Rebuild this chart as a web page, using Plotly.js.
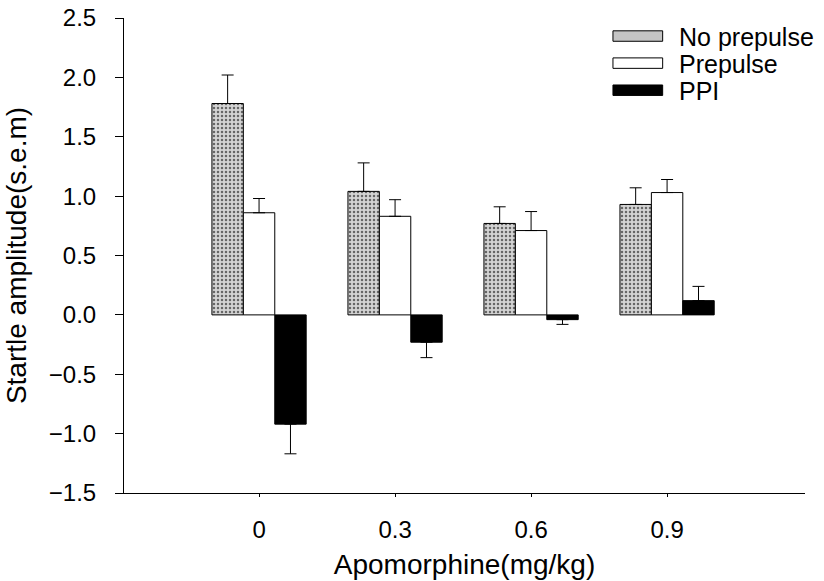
<!DOCTYPE html>
<html>
<head>
<meta charset="utf-8">
<script src="https://cdn.plot.ly/plotly-3.0.1.min.js"></script>
<style>html,body{margin:0;padding:0;background:#fff;}#chart{width:824px;height:581px;}</style>
</head>
<body>
<div id="chart"></div>
<script>
const categories = ["0", "0.3", "0.6", "0.9"];
const seriesNames = ["No prepulse", "Prepulse", "PPI"];
const noPrepulse = [1.78, 1.04, 0.77, 0.93];
const noPrepulseErr = [0.24, 0.24, 0.14, 0.14];
const prepulse = [0.86, 0.83, 0.71, 1.03];
const prepulseErr = [0.12, 0.14, 0.16, 0.11];
const ppi = [-0.92, -0.23, -0.04, 0.12];
const ppiErr = [0.25, 0.13, 0.04, 0.12];

function errObj(vals, errs) {
  return {
    type: 'data', symmetric: false,
    array: vals.map((v, i) => v >= 0 ? errs[i] : 0),
    arrayminus: vals.map((v, i) => v < 0 ? errs[i] : 0),
    color: '#000', thickness: 1, width: 6, visible: true
  };
}

const traces = [
  {type: 'bar', name: seriesNames[0], x: categories, y: noPrepulse,
   error_y: errObj(noPrepulse, noPrepulseErr),
   marker: {color: '#c4c4c4', line: {color: '#000', width: 1},
            pattern: {shape: '.', fgcolor: '#666', bgcolor: '#d4d4d4', size: 4, solidity: 0.3}}},
  {type: 'bar', name: seriesNames[1], x: categories, y: prepulse,
   error_y: errObj(prepulse, prepulseErr),
   marker: {color: '#ffffff', line: {color: '#000', width: 1}}},
  {type: 'bar', name: seriesNames[2], x: categories, y: ppi,
   error_y: errObj(ppi, ppiErr),
   marker: {color: '#000000', line: {color: '#000', width: 1}}}
];

const FONT = 'Liberation Sans, Arial, sans-serif';

// custom legend (wide swatches as in the original)
const legFill = ['#c4c4c4', '#ffffff', '#000000'];
const legY = [0.952, 0.895, 0.838];
const shapes = [];
const annotations = [];
seriesNames.forEach((n, i) => {
  shapes.push({type: 'rect', xref: 'paper', yref: 'paper',
    x0: 0.718, x1: 0.791, y0: legY[i] - 0.001, y1: legY[i] + 0.021,
    fillcolor: legFill[i], line: {color: '#000', width: 1}});
  annotations.push({xref: 'paper', yref: 'paper', x: 0.812, y: legY[i] + 0.008,
    xanchor: 'left', yanchor: 'middle', text: n, showarrow: false,
    font: {family: FONT, size: 25, color: '#000'}});
});

const layout = {
  width: 824, height: 581,
  margin: {l: 124, r: 19, t: 18, b: 88},
  paper_bgcolor: '#fff', plot_bgcolor: '#fff',
  showlegend: false,
  barmode: 'group', bargap: 0.307, bargroupgap: 0,
  font: {family: FONT, color: '#000'},
  xaxis: {type: 'category', range: [-0.993, 4.014],
    ticks: 'outside', ticklen: 3, tickcolor: '#000', ticklabelstandoff: 12,
    tickfont: {size: 24},
    showline: true, linecolor: '#000', linewidth: 1,
    showgrid: false, zeroline: false,
    title: {text: 'Apomorphine(mg/kg)', standoff: 12, font: {size: 28}}},
  yaxis: {range: [-1.5, 2.5], tickvals: [-1.5, -1, -0.5, 0, 0.5, 1, 1.5, 2, 2.5],
    tickformat: '.1f', ticks: 'outside', ticklen: 8, tickcolor: '#000',
    ticklabelstandoff: 14,
    tickfont: {size: 24}, showline: true, linecolor: '#000', linewidth: 1,
    showgrid: false, zeroline: false,
    title: {text: 'Startle amplitude(s.e.m)', standoff: 14,
      font: {size: 28}}},
  shapes: shapes,
  annotations: annotations
};

Plotly.newPlot('chart', traces, layout, {displayModeBar: false, staticPlot: true});
</script>
</body>
</html>
